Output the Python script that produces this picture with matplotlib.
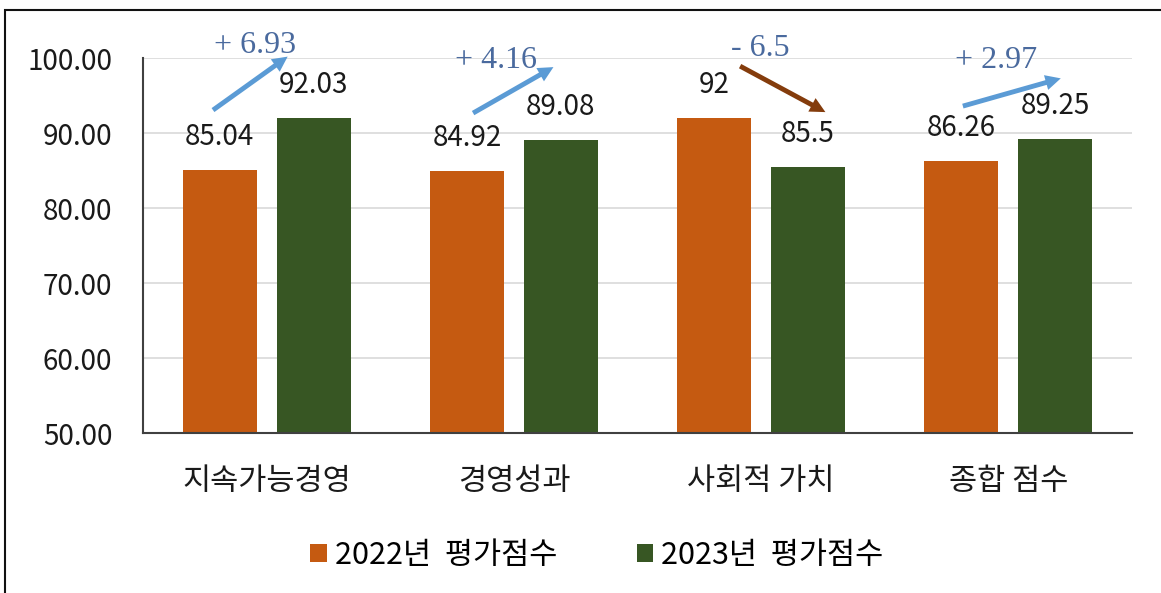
"""
2022 vs 2023 evaluation scores by category, with change arrows.
"""
import matplotlib
matplotlib.use("Agg")
import matplotlib.pyplot as plt
from matplotlib.patches import Rectangle
import numpy as np

plt.rcParams["font.family"] = ["Noto Sans CJK KR", "DejaVu Sans"]
plt.rcParams["axes.unicode_minus"] = False

# ---- data ----
categories = ["지속가능경영", "경영성과", "사회적 가치", "종합 점수"]
scores_2022 = [85.04, 84.92, 92, 86.26]
scores_2023 = [92.03, 89.08, 85.5, 89.25]
labels_2022 = ["85.04", "84.92", "92", "86.26"]
labels_2023 = ["92.03", "89.08", "85.5", "89.25"]
series_names = ["2022년  평가점수", "2023년  평가점수"]
change_labels = ["+ 6.93", "+ 4.16", "- 6.5", "+ 2.97"]
yticks = [50, 60, 70, 80, 90, 100]

# ---- annotation layout (arrow start/end and text spot, data coords) ----
arrow_layout = [
    ((-0.217, 93.07), (0.085, 100.2), (-0.047, 101.7)),
    ((0.835, 92.67), (1.160, 98.8), (0.928, 99.7)),
    ((1.915, 98.93), (2.260, 92.8), (1.995, 101.3)),
    ((2.816, 93.6), (3.212, 97.3), (2.950, 99.7)),
]

c22 = "#C55A11"
c23 = "#375623"
up_color = "#5B9BD5"
down_color = "#843C0C"
txt_color = "#4A6A9E"

fig = plt.figure(figsize=(11.61, 5.93), dpi=100)
fig.patch.set_facecolor("white")
ax = fig.add_axes([0.1232, 0.2698, 0.8518, 0.6322])

x = np.arange(len(categories))
w = 0.3
off = 0.19
b1 = ax.bar(x - off, [s - 50 for s in scores_2022], bottom=50, width=w,
            color=c22, label=series_names[0], zorder=2)
b2 = ax.bar(x + off, [s - 50 for s in scores_2023], bottom=50, width=w,
            color=c23, label=series_names[1], zorder=2)

# value labels above bars
for xs, vals, labs in ((x - off, scores_2022, labels_2022),
                       (x + off, scores_2023, labels_2023)):
    for xi, v, lab in zip(xs, vals, labs):
        ax.text(xi, v + 4.4, lab, ha="center", va="center", fontsize=20,
                color="#1a1a1a")

# change arrows
for (start, end, tpos), lab, a, b in zip(arrow_layout, change_labels,
                                         scores_2022, scores_2023):
    col = up_color if b >= a else down_color
    ax.annotate("", xy=end, xytext=start,
                arrowprops=dict(arrowstyle="simple,head_width=1.1,head_length=1.1,tail_width=0.35",
                                color=col, lw=0, shrinkA=0, shrinkB=0),
                annotation_clip=False, zorder=4)
    ax.text(tpos[0], tpos[1], lab, ha="center", va="center", fontsize=23,
            family="Liberation Serif", color=txt_color, clip_on=False,
            zorder=5)

ax.set_xlim(-0.5, len(categories) - 0.5)
ax.set_ylim(50, 100)
ax.set_yticks(yticks)
ax.set_yticklabels([f"{t:.2f}" for t in yticks], fontsize=20, color="#1a1a1a")
ax.set_xticks(x)
ax.set_xticklabels(categories, fontsize=22, color="#1a1a1a")
ax.tick_params(axis="y", length=0, pad=22)
ax.tick_params(axis="x", length=0, pad=24)

ax.yaxis.grid(True, color="#D9D9D9", linewidth=1.2, zorder=0)
ax.set_axisbelow(True)
for s in ("top", "right"):
    ax.spines[s].set_visible(False)
ax.spines["left"].set_color("#404040")
ax.spines["bottom"].set_color("#404040")
ax.spines["left"].set_linewidth(1.5)
ax.spines["bottom"].set_linewidth(1.5)

fig.legend(handles=[b1, b2], loc="center", bbox_to_anchor=(0.514, 0.064),
           ncol=2, frameon=False, fontsize=22, handlelength=0.55,
           handleheight=0.55, handletextpad=0.25, columnspacing=2.6)

# outer frame
fig.patches.append(Rectangle((5 / 1161, -0.1), 2, 0.983 + 0.1,
                             transform=fig.transFigure, fill=False,
                             edgecolor="#111111", linewidth=1.5))

fig.savefig("out.png", dpi=100, facecolor="white")
